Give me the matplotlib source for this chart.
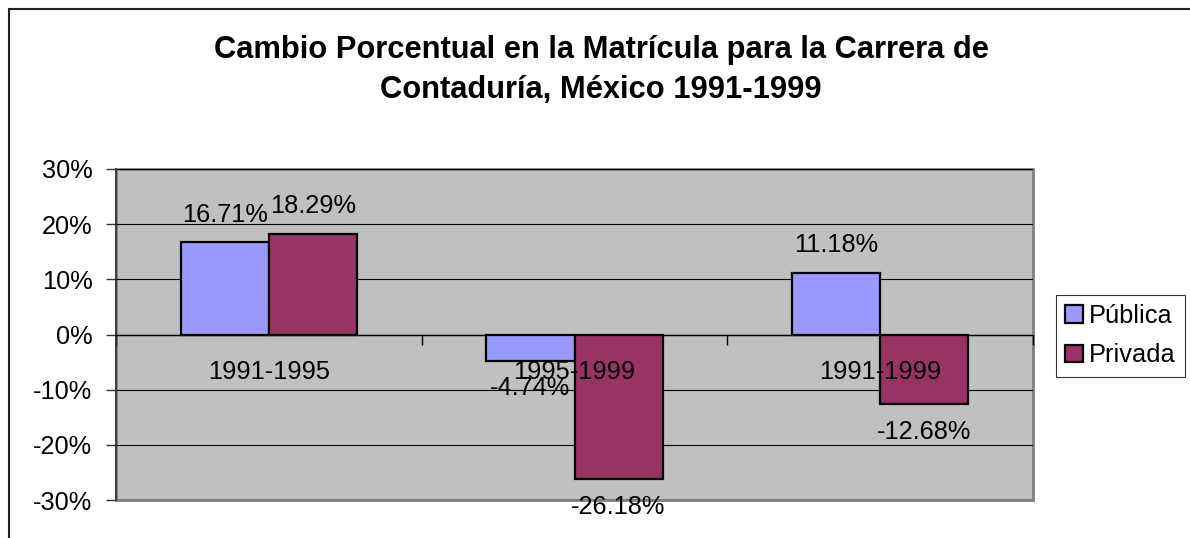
import numpy as np
import matplotlib
matplotlib.use('Agg')
import matplotlib.pyplot as plt
from matplotlib.patches import Patch, Rectangle

plt.rcParams['font.family'] = ['Liberation Sans', 'DejaVu Sans']

# datos
periodos = ['1991-1995', '1995-1999', '1991-1999']
publica = [16.71, -4.74, 11.18]
privada = [18.29, -26.18, -12.68]
series = ['Pública', 'Privada']
colores = ['#9999FF', '#993366']
titulo = 'Cambio Porcentual en la Matrícula para la Carrera de\nContaduría, México 1991-1999'

fs = 18.3

fig = plt.figure(figsize=(11.9, 5.38), dpi=100)
ax = fig.add_axes([116/1190, 1-500/538, (1033-116)/1190, (500-169)/538])

x = np.arange(len(periodos))
w = 0.288
ax.patch.set_facecolor('#C0C0C0')
ax.patch.set_edgecolor('#808080')
ax.patch.set_linewidth(2)

ax.set_ylim(-30, 30)
ax.set_xlim(-0.5, len(periodos) - 0.5)
ax.set_yticks(np.arange(-30, 31, 10))
ax.set_yticklabels(['%d%%' % v for v in np.arange(-30, 31, 10)], fontsize=fs)
ax.yaxis.grid(True, color='black', linewidth=0.8)
ax.set_axisbelow(True)
ax.tick_params(axis='y', length=7, width=1, pad=10, color='#333333')

for s in ['top', 'right']:
    ax.spines[s].set_visible(False)
ax.spines['left'].set_color('#333333')
ax.spines['left'].set_linewidth(1.2)
ax.spines['bottom'].set_position(('data', 0))
ax.spines['bottom'].set_color('black')
ax.spines['bottom'].set_linewidth(1)
ax.set_xticks(np.arange(-0.5, len(periodos), 1.0))
ax.set_xticklabels([])
ax.tick_params(axis='x', length=7, width=1, direction='out')

for vals, off, c in zip([publica, privada], [-w/2, w/2], colores):
    ax.bar(x + off, vals, width=w, color=c, edgecolor='black', linewidth=1.6, zorder=3)
    for xi, v in zip(x + off, vals):
        ax.annotate('%.2f%%' % v, (xi, v), xytext=(0, 20 if v > 0 else -20),
                    textcoords='offset points', ha='center', va='center',
                    fontsize=fs, zorder=5)

for xi, p in zip(x, periodos):
    ax.annotate(p, (xi, 0), xytext=(0, -27), textcoords='offset points',
                ha='center', va='center', fontsize=fs, zorder=5)

fig.text(0.505, 1-70/538, titulo, ha='center', va='center', fontsize=22.2,
         fontweight='bold', linespacing=1.45)

handles = [Patch(facecolor=c, edgecolor='black', linewidth=1.6) for c in colores]
leg = fig.legend(handles, series, loc='upper left', bbox_to_anchor=(1056/1190, 1-295/538),
                 fontsize=fs, frameon=True, fancybox=False, handlelength=0.7,
                 handleheight=0.7, handletextpad=0.25, borderpad=0.36,
                 labelspacing=0.6, borderaxespad=0)
leg.get_frame().set_edgecolor('black')
leg.get_frame().set_linewidth(0.8)

fig.patches.append(Rectangle((9/1190, -0.1), 1.2, 1-9/538+0.1, transform=fig.transFigure,
                             fill=False, edgecolor='#222222', linewidth=1.5))

fig.savefig('out.png', dpi=100)
